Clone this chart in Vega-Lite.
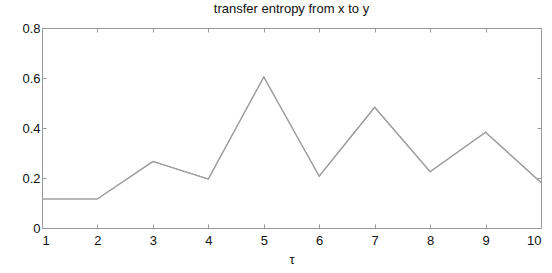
{
  "$schema": "https://vega.github.io/schema/vega-lite/v6.json",
  "autosize": "none",
  "width": 499,
  "height": 200,
  "padding": {"left": 42, "top": 28, "right": 11, "bottom": 45},
  "background": "white",
  "title": {"text": "transfer entropy from x to y", "font": "Liberation Sans", "fontSize": 13, "fontWeight": "normal", "color": "#111", "offset": 6},
  "config": {
    "view": {"stroke": "#999", "strokeWidth": 1},
    "axis": {"grid": false, "domain": false, "tickColor": "#999", "tickSize": -4, "labelFont": "Liberation Sans", "labelFontSize": 13, "labelColor": "#111", "titleFont": "Liberation Sans", "titleFontSize": 13, "titleFontWeight": "normal", "titleColor": "#111"}
  },
  "data": {"values": [
    {"tau": 1, "te": 0.116},
    {"tau": 2, "te": 0.116},
    {"tau": 3, "te": 0.266},
    {"tau": 4, "te": 0.196},
    {"tau": 5, "te": 0.604},
    {"tau": 6, "te": 0.207},
    {"tau": 7, "te": 0.483},
    {"tau": 8, "te": 0.225},
    {"tau": 9, "te": 0.383},
    {"tau": 10, "te": 0.182}
  ]},
  "layer": [
    {
      "mark": {"type": "line", "color": "#a0a0a0", "strokeWidth": 1.2},
      "encoding": {
        "x": {"field": "tau", "type": "quantitative", "scale": {"domain": [1, 10], "nice": false, "zero": false}, "axis": {"orient": "bottom", "values": [1,2,3,4,5,6,7,8,9,10], "title": "τ", "labelPadding": 10, "titlePadding": 6}},
        "y": {"field": "te", "type": "quantitative", "scale": {"domain": [0, 0.8], "nice": false}, "axis": {"orient": "left", "values": [0, 0.2, 0.4, 0.6, 0.8], "format": "~g", "title": null, "labelPadding": 6}}
      }
    },
    {
      "mark": {"type": "line", "color": "#a0a0a0", "strokeWidth": 1.2},
      "encoding": {
        "x": {"field": "tau", "type": "quantitative", "scale": {"domain": [1, 10], "nice": false, "zero": false}, "axis": {"orient": "top", "values": [1,2,3,4,5,6,7,8,9,10], "labels": false, "title": null}},
        "y": {"field": "te", "type": "quantitative", "scale": {"domain": [0, 0.8], "nice": false}, "axis": {"orient": "right", "values": [0, 0.2, 0.4, 0.6, 0.8], "labels": false, "title": null}}
      }
    }
  ],
  "resolve": {"axis": {"x": "independent", "y": "independent"}}
}
